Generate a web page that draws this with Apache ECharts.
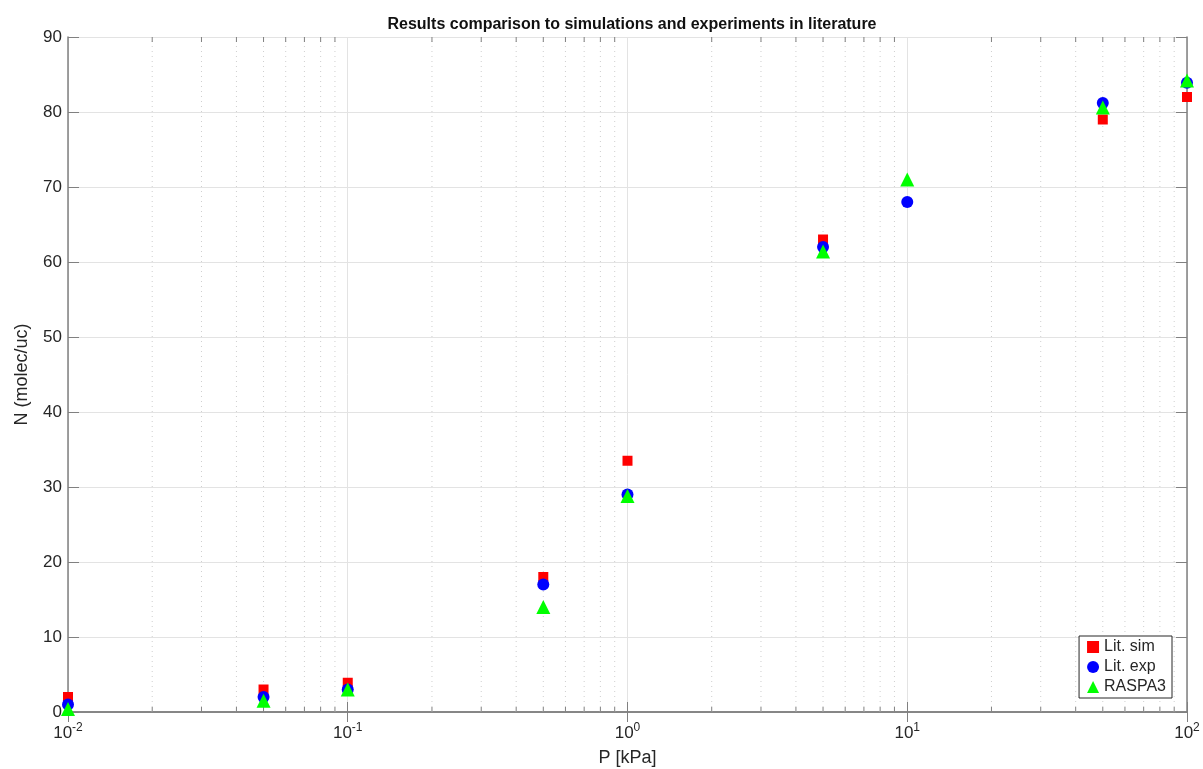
<!DOCTYPE html>
<html>
<head>
<meta charset="utf-8">
<script src="https://cdn.jsdelivr.net/npm/echarts@6/dist/echarts.min.js"></script>
<style>
html, body { margin: 0; padding: 0; background: #fff; }
#chart { width: 1203px; height: 769px; }
</style>
</head>
<body>
<div id="chart"></div>
<script>
// pressure points (kPa)
var pressure = [0.01, 0.05, 0.1, 0.5, 1, 5, 10, 50, 100];
// loadings (molec/uc), null where no point
var litSim = [2, 3, 3.9, 18, 33.5, 63, null, 79, 82];
var litExp = [1, 2, 3, 17, 29, 62, 68, 81.2, 83.9];
var raspa3 = [0.4, 1.5, 3, 14, 28.8, 61.4, 71, 80.6, 84.2];
var minorX = [0.02, 0.03, 0.04, 0.05, 0.06, 0.07, 0.08, 0.09,
  0.2, 0.3, 0.4, 0.5, 0.6, 0.7, 0.8, 0.9,
  2, 3, 4, 5, 6, 7, 8, 9,
  20, 30, 40, 50, 60, 70, 80, 90];

var font = 'Liberation Sans, Arial, sans-serif';
var axisGray = '#808080';
var textCol = '#262626';

function pairs(vals) {
  var out = [];
  vals.forEach(function(v, i) {
    if (v !== null) out.push([pressure[i], v]);
  });
  return out;
}

var chart = echarts.init(document.getElementById('chart'));

var logLabel = {
  color: textCol,
  fontFamily: font,
  fontSize: 17,
  margin: 10,
  formatter: function(v) {
    var e = Math.round(Math.log10(v));
    return '10{sup|' + e + '}';
  },
  rich: {
    sup: { fontSize: 12, fontFamily: font, color: textCol, padding: [0, 0, 10, 0] }
  }
};

chart.setOption({
  animation: false,
  title: {
    text: 'Results comparison to simulations and experiments in literature',
    left: 627,
    textAlign: 'center',
    top: 12,
    textStyle: { fontFamily: font, fontSize: 16, fontWeight: 'bold', color: '#111' }
  },
  grid: { left: 68, right: 16, top: 37, bottom: 57, containLabel: false, outerBoundsMode: 'none' },
  legend: {
    orient: 'vertical',
    right: 31,
    bottom: 71,
    backgroundColor: '#fff',
    borderColor: '#262626',
    borderWidth: 1,
    padding: [3, 6, 3, 8],
    itemGap: 4,
    itemWidth: 12,
    itemHeight: 12,
    textStyle: { fontFamily: font, fontSize: 16, color: textCol },
    data: [
      { name: 'Lit. sim', icon: 'rect' },
      { name: 'Lit. exp', icon: 'circle' },
      { name: 'RASPA3', icon: 'triangle' }
    ]
  },
  xAxis: [{
    type: 'log',
    logBase: 10,
    min: 0.01,
    max: 100,
    name: 'P [kPa]',
    nameLocation: 'middle',
    nameGap: 37,
    nameMoveOverlap: false,
    nameTextStyle: { fontFamily: font, fontSize: 18, color: textCol },
    axisLine: { show: true, lineStyle: { color: axisGray, width: 1.5 } },
    axisTick: { show: true, inside: true, length: 10, lineStyle: { color: axisGray } },
    axisLabel: logLabel,
    splitLine: { show: true, lineStyle: { color: '#e3e3e3', width: 1 } }
  }, {
    type: 'log',
    logBase: 10,
    min: 0.01,
    max: 100,
    position: 'top',
    axisLine: { show: true, lineStyle: { color: axisGray, width: 1.5 } },
    axisTick: { show: true, inside: true, length: 10, lineStyle: { color: axisGray } },
    axisLabel: { show: false },
    splitLine: { show: false }
  }],
  yAxis: [{
    type: 'value',
    min: 0,
    max: 90,
    interval: 10,
    name: 'N (molec/uc)',
    nameLocation: 'middle',
    nameGap: 37,
    nameMoveOverlap: false,
    nameTextStyle: { fontFamily: font, fontSize: 18, color: textCol },
    axisLine: { show: true, lineStyle: { color: axisGray, width: 1.5 } },
    axisTick: { show: true, inside: true, length: 11, lineStyle: { color: axisGray } },
    axisLabel: { color: textCol, fontFamily: font, fontSize: 17, margin: 6 },
    splitLine: { show: true, lineStyle: { color: '#e3e3e3', width: 1 } }
  }, {
    type: 'value',
    min: 0,
    max: 90,
    interval: 10,
    position: 'right',
    axisLine: { show: true, lineStyle: { color: axisGray, width: 1.5 } },
    axisTick: { show: true, inside: true, length: 11, lineStyle: { color: axisGray } },
    axisLabel: { show: false },
    splitLine: { show: false }
  }],
  series: [
    {
      // minor log grid lines and minor ticks
      type: 'custom',
      silent: true,
      z: 1,
      data: minorX.map(function(v) { return [v]; }),
      renderItem: function(params, api) {
        var bot = api.coord([api.value(0), 0]);
        var top = api.coord([api.value(0), 90]);
        return {
          type: 'group',
          children: [{
            type: 'line',
            shape: { x1: bot[0], y1: bot[1], x2: top[0], y2: top[1] },
            style: { stroke: '#cfcfcf', lineWidth: 1, lineDash: [1, 4] }
          }, {
            type: 'line',
            shape: { x1: bot[0], y1: bot[1], x2: bot[0], y2: bot[1] - 5 },
            style: { stroke: axisGray, lineWidth: 1 }
          }, {
            type: 'line',
            shape: { x1: top[0], y1: top[1], x2: top[0], y2: top[1] + 5 },
            style: { stroke: axisGray, lineWidth: 1 }
          }]
        };
      }
    },
    {
      name: 'Lit. sim',
      type: 'scatter',
      symbol: 'rect',
      symbolSize: 10,
      itemStyle: { color: '#ff0000', opacity: 1 },
      z: 3,
      data: pairs(litSim)
    },
    {
      name: 'Lit. exp',
      type: 'scatter',
      symbol: 'circle',
      symbolSize: 12,
      itemStyle: { color: '#0000ff', opacity: 1 },
      z: 4,
      data: pairs(litExp)
    },
    {
      name: 'RASPA3',
      type: 'scatter',
      symbol: 'triangle',
      symbolSize: 14,
      itemStyle: { color: '#00ff00', opacity: 1 },
      z: 5,
      data: pairs(raspa3)
    }
  ]
});
</script>
</body>
</html>
